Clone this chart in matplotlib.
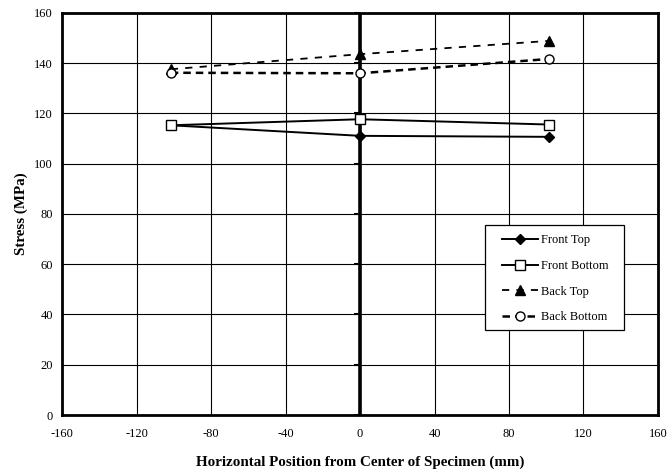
import matplotlib
matplotlib.use("Agg")
import matplotlib.pyplot as plt
from matplotlib.markers import TICKLEFT
from matplotlib.patches import Rectangle

plt.rcParams['font.family'] = ['Liberation Serif', 'DejaVu Serif']

positions = [-101.6, 0, 101.6]
front_top = [115.3, 111.1, 110.7]
front_bottom = [115.3, 117.7, 115.6]
back_top = [137.6, 143.6, 148.9]
back_bottom = [136.2, 136.0, 141.7]

xticks = [-160, -120, -80, -40, 0, 40, 80, 120, 160]
yticks = [0, 20, 40, 60, 80, 100, 120, 140, 160]

fig = plt.figure(figsize=(6.67, 4.73), dpi=100)
ax = fig.add_axes([0.093, 0.1226, 0.8935, 0.85])

ax.set_xlim(-160, 160)
ax.set_ylim(0, 160)
ax.set_xticks(xticks)
ax.set_yticks(yticks)
ax.set_xticklabels([str(v) for v in xticks], fontsize=9)
ax.set_yticklabels([str(v) for v in yticks], fontsize=9)
ax.tick_params(axis='x', length=0, pad=9.5)
ax.tick_params(axis='y', length=0, pad=6.5)
ax.grid(True, color='black', linewidth=0.8)
ax.set_axisbelow(True)
for s in ax.spines.values():
    s.set_linewidth(2.0)
    s.set_color('black')

# central value axis at x=0
ax.axvline(0, color='black', linewidth=2.6, zorder=2)
ax.plot([0] * len(yticks), yticks, linestyle='none', marker=TICKLEFT,
        markersize=4, markeredgewidth=1.5, color='black', zorder=2, clip_on=False)

ax.plot(positions, front_top, color='black', linewidth=1.4, marker='D',
        markersize=5, markerfacecolor='black', label='Front Top', zorder=3)
ax.plot(positions, front_bottom, color='black', linewidth=1.4, marker='s',
        markersize=6.5, markerfacecolor='white', markeredgewidth=1.0,
        label='Front Bottom', zorder=3)
ax.plot(positions, back_top, color='black', linewidth=1.3, linestyle=(0, (4, 4)),
        marker='^', markersize=6.5, markerfacecolor='black', label='Back Top', zorder=3)
ax.plot(positions, back_bottom, color='black', linewidth=1.8, linestyle=(0, (3, 2)),
        marker='o', markersize=6.5, markerfacecolor='white', markeredgewidth=1.0,
        label='Back Bottom', zorder=3)

# legend box
ax.add_patch(Rectangle((0.709, 0.2114), 0.234, 0.262, transform=ax.transAxes,
                       facecolor='white', edgecolor='black', linewidth=0.9, zorder=5))
leg = ax.legend(loc='upper left', bbox_to_anchor=(0.738, 0.449), fontsize=9,
                frameon=False, borderpad=0, borderaxespad=0,
                handlelength=2.9, labelspacing=1.09, handletextpad=0.2)
leg.set_zorder(6)

ax.set_xlabel('Horizontal Position from Center of Specimen (mm)', fontsize=10.8,
              fontweight='bold', labelpad=11)
ax.set_ylabel('Stress (MPa)', fontsize=10.8, fontweight='bold', labelpad=4.5)

fig.savefig('out.png', dpi=100)
